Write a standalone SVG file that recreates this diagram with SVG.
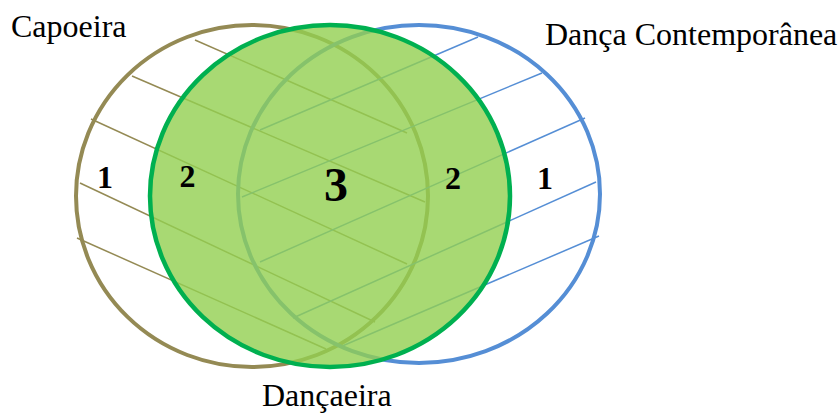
<svg xmlns="http://www.w3.org/2000/svg" width="838" height="414" viewBox="0 0 838 414">
<style>
.lbl{font-family:"Liberation Serif","Times New Roman",serif;font-size:32px;fill:#000}
.num{font-family:"Liberation Serif","Times New Roman",serif;font-size:32px;font-weight:bold;fill:#000;text-anchor:middle}
.olive{fill:none;stroke:#948A54;stroke-width:4}
.oh{stroke:#948A54;stroke-width:1.5;fill:none}
.blue{fill:none;stroke:#558ED5;stroke-width:4}
.bh{stroke:#558ED5;stroke-width:1.5;fill:none}
.green{fill:#92D050;fill-opacity:0.8;stroke:#00B050;stroke-width:4.5}
</style>
<rect width="838" height="414" fill="#fff"/>
<g id="capoeira">
  <ellipse class="olive" cx="252" cy="196" rx="176" ry="171"/>
  <line class="oh" x1="195" y1="40" x2="407" y2="133"/>
  <line class="oh" x1="132" y1="76" x2="425" y2="202"/>
  <line class="oh" x1="91" y1="119" x2="407" y2="264"/>
  <line class="oh" x1="80" y1="183" x2="375" y2="322"/>
  <line class="oh" x1="77" y1="238" x2="326" y2="349"/>
</g>
<g id="danca-contemporanea">
  <ellipse class="blue" cx="419" cy="194" rx="181" ry="169"/>
  <line class="bh" x1="260" y1="130" x2="478" y2="37"/>
  <line class="bh" x1="242" y1="197" x2="542" y2="73"/>
  <line class="bh" x1="260" y1="262" x2="585" y2="118"/>
  <line class="bh" x1="293" y1="318" x2="596" y2="182"/>
  <line class="bh" x1="340" y1="347" x2="599" y2="236"/>
</g>
<g id="dancaeira">
  <ellipse class="green" cx="330" cy="196" rx="180" ry="171"/>
</g>
<g id="labels">
  <text class="lbl" x="11" y="37">Capoeira</text>
  <text class="lbl" x="545" y="45">Dança Contemporânea</text>
  <text class="lbl" x="262" y="406">Dançaeira</text>
  <text class="num" x="105" y="188">1</text>
  <text class="num" x="187.5" y="187">2</text>
  <text class="num" x="336" y="201" style="font-size:48px">3</text>
  <text class="num" x="453" y="189">2</text>
  <text class="num" x="545" y="189">1</text>
</g>
</svg>
